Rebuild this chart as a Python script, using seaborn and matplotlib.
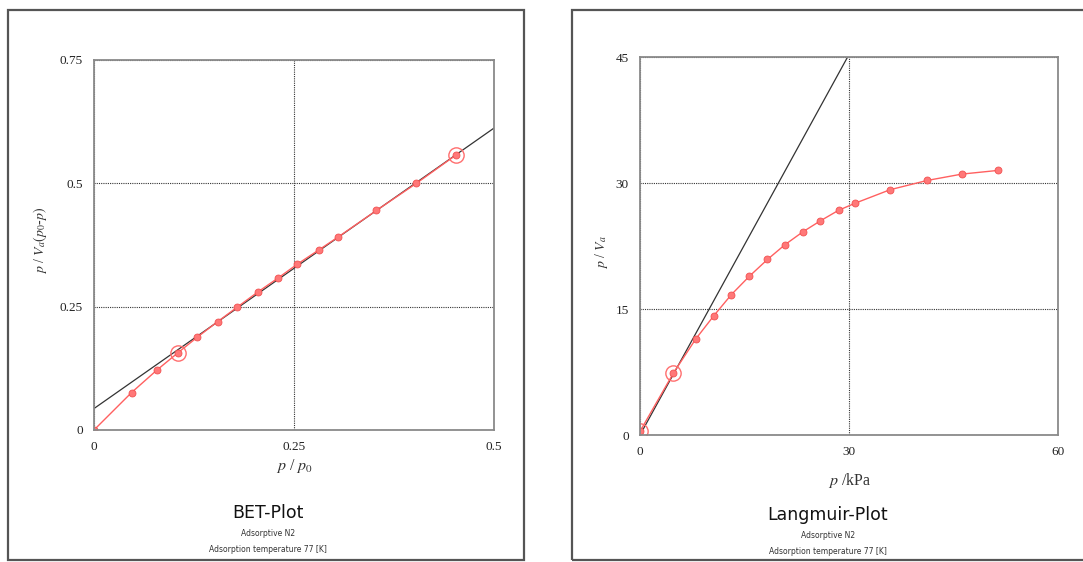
import numpy as np
import pandas as pd
import matplotlib
matplotlib.use("Agg")
import matplotlib.pyplot as plt
from matplotlib.patches import Rectangle
import seaborn as sns

# BET plot data (relative pressure vs p / Va(p0 - p))
bet_x = [0.0, 0.047, 0.079, 0.1045, 0.129, 0.1545, 0.179, 0.205, 0.230,
         0.254, 0.281, 0.305, 0.353, 0.403, 0.453]
bet_y = [0.0, 0.076, 0.122, 0.156, 0.188, 0.2196, 0.249, 0.280, 0.308,
         0.336, 0.365, 0.391, 0.445, 0.500, 0.558]
bet_marked = [3, 14]
bet_fit_intercept = 0.0435
bet_fit_slope = 1.137

# Langmuir plot data (p in kPa vs p / Va)
lang_x = [0.0, 4.8, 8.0, 10.6, 13.1, 15.7, 18.3, 20.8, 23.4, 25.9, 28.5,
          30.9, 35.9, 41.2, 46.2, 51.4]
lang_y = [0.43, 7.38, 11.43, 14.2, 16.7, 18.9, 20.9, 22.65, 24.2, 25.5,
          26.75, 27.6, 29.2, 30.3, 31.06, 31.5]
lang_marked = [0, 1]
lang_fit_intercept = 0.0
lang_fit_slope = 1.51

sns.set_style("white")
plt.rcParams['font.family'] = ['Liberation Serif', 'DejaVu Serif']
plt.rcParams['mathtext.fontset'] = 'stix'

RED_LINE = "#ff6060"
RED_FACE = "#ff7878"
RED_EDGE = "#f25050"
SPINE = "#8a8a8a"

fig = plt.figure(figsize=(10.83, 5.62), dpi=100)
W, H = 1083.0, 562.0


def fx(px):
    return px / W


def fy(py):
    return 1 - py / H


# outer frames of the two panels
for (x0, y0, x1, y1) in [(8, 10, 524, 560), (572, 10, 1090, 560)]:
    fig.patches.append(Rectangle((fx(x0), fy(y1)), fx(x1 - x0), (y1 - y0) / H,
                                 transform=fig.transFigure, fill=False,
                                 edgecolor="#555555", lw=1.6, zorder=0))


def panel(rect, x, y, marked, intercept, slope, xlim, ylim, xticks, yticks,
          xticklabels, yticklabels):
    ax = fig.add_axes(rect)
    df = pd.DataFrame({"x": x, "y": y})
    fit_x = np.array(xlim, dtype=float)
    fit = pd.DataFrame({"x": fit_x, "y": intercept + slope * fit_x})
    sns.lineplot(data=fit, x="x", y="y", ax=ax, color="#333333", lw=0.9,
                 zorder=2)
    sns.lineplot(data=df, x="x", y="y", ax=ax, color=RED_LINE, lw=1.0,
                 marker="o", markersize=5, markerfacecolor=RED_FACE,
                 markeredgecolor=RED_EDGE, markeredgewidth=0.6, zorder=3,
                 sort=False)
    hi = df.iloc[marked]
    ax.plot(hi.x, hi.y, "o", ms=11, mfc="none", mec="#ff6e6e", mew=1.0,
            zorder=4)
    ax.set_xlim(*xlim)
    ax.set_ylim(*ylim)
    ax.set_xticks(xticks)
    ax.set_yticks(yticks)
    ax.set_xticklabels(xticklabels)
    ax.set_yticklabels(yticklabels)
    ax.tick_params(length=0, labelsize=9.5, colors="#222222")
    ax.tick_params(axis="x", pad=8)
    ax.tick_params(axis="y", pad=8)
    ax.grid(True, color="#333333", linestyle=(0, (1, 1)), lw=0.8)
    for s in ax.spines.values():
        s.set_color(SPINE)
        s.set_linewidth(1.3)
        s.set_zorder(5)
    ax.set_xlabel("")
    ax.set_ylabel("")
    return ax


panel([fx(94), fy(430), fx(400), 370 / H], bet_x, bet_y, bet_marked,
      bet_fit_intercept, bet_fit_slope, (0, 0.5), (0, 0.75),
      [0, 0.25, 0.5], [0, 0.25, 0.5, 0.75],
      ["0", "0.25", "0.5"], ["0", "0.25", "0.5", "0.75"])

panel([fx(640), fy(435), fx(418), 378 / H], lang_x, lang_y, lang_marked,
      lang_fit_intercept, lang_fit_slope, (0, 60), (0, 45),
      [0, 30, 60], [0, 15, 30, 45],
      ["0", "30", "60"], ["0", "15", "30", "45"])

# axis labels
fig.text(fx(295), fy(466), r"$p$ / $p_0$", ha="center", va="center",
         fontsize=11.5, color="#333333")
fig.text(fx(40), fy(240), r"$p$ / $V_a(p_0$-$p)$", ha="center", va="center",
         rotation=90, fontsize=10, color="#333333")
fig.text(fx(850), fy(481), r"$p$ /kPa", ha="center", va="center",
         fontsize=11.5, color="#333333")
fig.text(fx(601), fy(252), r"$p$ / $V_a$", ha="center", va="center",
         rotation=90, fontsize=10, color="#333333")

# panel captions
for cx, ty, title in [(268, 513, "BET-Plot"), (828, 515, "Langmuir-Plot")]:
    fig.text(fx(cx), fy(ty), title, ha="center", va="center", fontsize=12.5,
             family=["DejaVu Sans"], color="#111111")
    fig.text(fx(cx), fy(ty + 20), "Adsorptive N2", ha="center", va="center",
             fontsize=5.5, family=["DejaVu Sans"], color="#333333")
    fig.text(fx(cx), fy(ty + 36), "Adsorption temperature 77 [K]",
             ha="center", va="center", fontsize=5.5, family=["DejaVu Sans"],
             color="#333333")

fig.savefig("out.png", dpi=100, facecolor="white")
